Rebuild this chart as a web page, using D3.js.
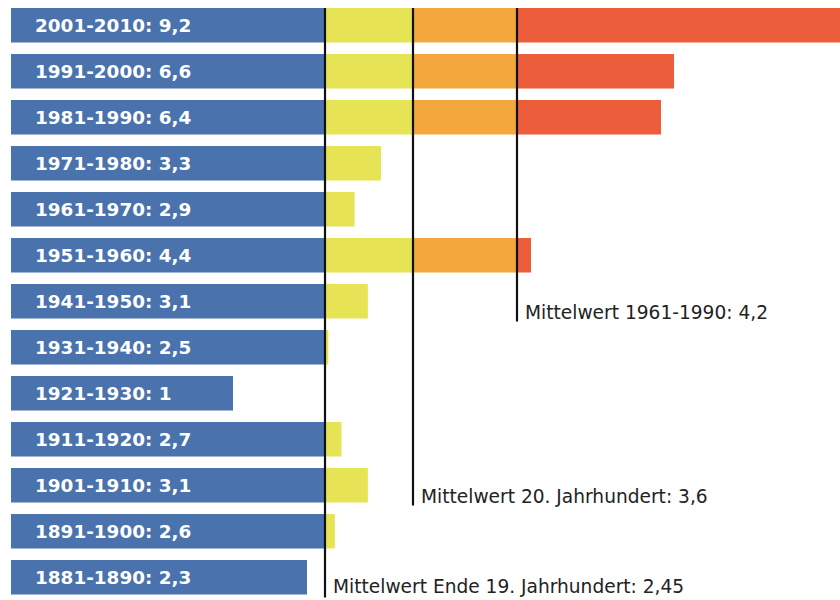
<!DOCTYPE html>
<html>
<head>
<meta charset="utf-8">
<script src="https://cdn.jsdelivr.net/npm/d3@7"></script>
<style>
  body { margin: 0; background: #fff; }
  svg { display: block; }
</style>
</head>
<body>
<script>
var decades = ["2001-2010", "1991-2000", "1981-1990", "1971-1980", "1961-1970", "1951-1960",
	"1941-1950", "1931-1940", "1921-1930", "1911-1920", "1901-1910", "1891-1900", "1881-1890"];
var values = [9.2, 6.6, 6.4, 3.3, 2.9, 4.4, 3.1, 2.5, 1, 2.7, 3.1, 2.6, 2.3];
var refValues = [2.45, 3.6, 4.2];
var refLabels = ["Mittelwert Ende 19. Jahrhundert: 2,45", "Mittelwert 20. Jahrhundert: 3,6", "Mittelwert 1961-1990: 4,2"];
var refRows = [12, 10, 6]; // row under which each line stops
var bandColors = ["#4a72ad", "#e6e454", "#f4a73d", "#ec5e3b"];

var w = 840, h = 600;
var fmt = function(v) { return String(v).replace(".", ","); };

var svg = d3.select("body").append("svg")
	.attr("width", w)
	.attr("height", h);

// the original graphic is not drawn to a linear scale, so use a piecewise one
var x = d3.scaleLinear()
	.domain([1, 2.3, 2.45, 3.3, 3.6, 4.2, 4.4, 9.2])
	.range([233, 307, 325, 381, 413, 517, 531, 843]);
var x0 = 11;

var y = d3.scaleBand()
	.domain(decades)
	.range([8, 594.5])
	.paddingInner(0.25)
	.paddingOuter(0);

// band limits for colour segments
var limits = [-Infinity].concat(refValues).concat([Infinity]);

var rows = svg.selectAll("g.row")
	.data(decades)
	.enter()
	.append("g")
		.attr("class", "row")
		.attr("transform", d => "translate(0," + y(d) + ")");

rows.each(function(d, i) {
	var v = values[i];
	var g = d3.select(this);
	for (var k = 0; k < 4; k++) {
		var lo = limits[k], hi = limits[k + 1];
		if (v <= lo) break;
		var a = k === 0 ? x0 : x(lo);
		var b = x(Math.min(v, hi));
		g.append("rect")
			.attr("x", a)
			.attr("y", 0)
			.attr("width", Math.max(0, b - a))
			.attr("height", y.bandwidth())
			.attr("fill", bandColors[k]);
	}
	g.append("text")
		.attr("x", 35)
		.attr("y", y.bandwidth() / 2)
		.attr("dy", "0.36em")
		.attr("fill", "#fff")
		.attr("font-family", "DejaVu Sans, Verdana, sans-serif")
		.attr("font-weight", "bold")
		.attr("font-size", 18.4)
		.text(d + ": " + fmt(v));
});

// reference lines
refValues.forEach(function(r, i) {
	var rowBottom = y(decades[refRows[i]]) + y.bandwidth();
	svg.append("line")
		.attr("x1", x(r)).attr("x2", x(r))
		.attr("y1", y(decades[0]))
		.attr("y2", Math.min(h, rowBottom + 3))
		.attr("stroke", "#111")
		.attr("stroke-width", 2.2);
	svg.append("text")
		.attr("x", x(r) + 8)
		.attr("y", rowBottom - (i === 0 ? 1.5 : 0))
		.attr("fill", "#222")
		.attr("font-family", "DejaVu Sans, Verdana, sans-serif")
		.attr("font-size", 18.6)
		.text(refLabels[i]);
});
</script>
</body>
</html>
